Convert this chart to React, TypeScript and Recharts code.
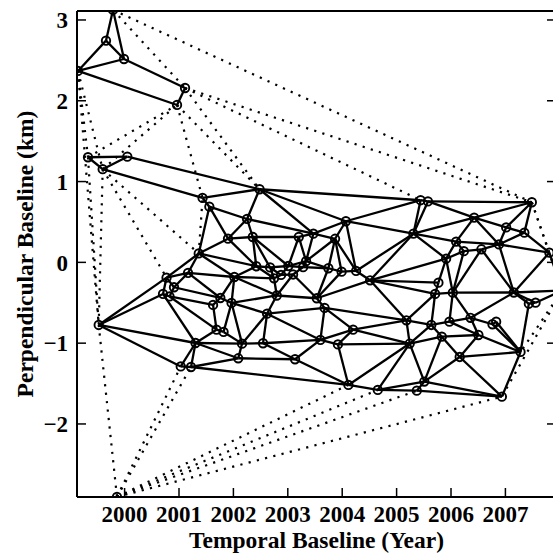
import React from 'react';
import { ScatterChart, Scatter, XAxis, YAxis, ReferenceLine, Label } from 'recharts';

// acquisitions: id, acquisition time (decimal year), perpendicular baseline (km)
const acqIds = [
  'p1', 'p2', 'p3', 'p4', 'p5', 'p6', 'p7', 'p8', 'p9', 'p93',
  'a', 'b', 'c', 'd', 'e', 'f', 'g', 'h', 'i', 'j', 'k', 'l', 'm', 'n', 'o', 'p', 'q', 'r', 's', 't', 'u', 'v', 'w', 'x', 'y', 'z',
  'A', 'B', 'C', 'D', 'E', 'F', 'G', 'H', 'I', 'J', 'K', 'L', 'M', 'N', 'O', 'P', 'Q', 'R', 'S', 'T', 'U', 'V', 'W', 'X', 'Y', 'Z',
  'aa', 'ab', 'ac', 'ad', 'ae', 'af', 'ag', 'ah', 'ai', 'aj', 'ak', 'al', 'am', 'an', 'ao', 'ap', 'aq', 'ar', 'as', 'at', 'au', 'av',
  'aw', 'ax', 'ay', 'az', 'ba', 'bb', 'bc', 'bd', 'be', 'bf', 'zz',
];
const acqYears = [
  1999.787, 1999.658, 1999.989, 1999.143, 2001.111, 2000.964, 1999.327, 2000.05, 1999.597, 1999.86,
  1999.524, 2001.032, 2001.221, 2000.706, 2000.771, 2000.826, 2000.908, 2001.166, 2001.304, 2001.363, 2001.433, 2001.558, 2001.626,
  2001.69, 2001.76, 2001.819, 2001.901, 2001.966, 2002.017, 2002.089, 2002.159, 2002.251, 2002.356, 2002.42, 2002.481, 2002.545,
  2002.619, 2002.674, 2002.747, 2002.797, 2002.876, 2003.01, 2003.097, 2003.133, 2003.202, 2003.281, 2003.336, 2003.47, 2003.533,
  2003.599, 2003.676, 2003.746, 2003.869, 2003.921, 2003.989, 2004.068, 2004.114, 2004.2, 2004.255, 2004.513, 2004.654, 2005.18,
  2005.241, 2005.309, 2005.371, 2005.441, 2005.509, 2005.576, 2005.638, 2005.708, 2005.769, 2005.831, 2005.91, 2005.971, 2006.033,
  2006.094, 2006.16, 2006.236, 2006.359, 2006.425, 2006.504, 2006.559, 2006.762, 2006.83, 2006.881, 2006.935, 2007.014, 2007.155,
  2007.278, 2007.348, 2007.431, 2007.486, 2007.554, 2007.808, 2008.043,
];
const acqBperp = [
  3.124, 2.744, 2.517, 2.369, 2.158, 1.948, 1.301, 1.308, 1.153, -2.903,
  -0.775, -1.288, -1.295, -0.391, -0.189, -0.422, -0.308, -0.131, -0.998, 0.11, 0.797, 0.689, -0.527,
  -0.833, -0.441, -0.861, 0.293, -0.502, -0.181, -1.187, -1.006, 0.537, 0.314, -0.048, 0.905, -1.001,
  -0.635, -0.063, -0.197, -0.41, -0.156, -0.045, -0.15, -1.199, 0.314, -0.059, 0.015, 0.355, -0.444,
  -0.96, -0.564, -0.073, 0.292, -1.016, -0.115, 0.509, -1.517, -0.833, -0.106, -0.222, -1.579, -0.717,
  -1.005, 0.355, -1.588, 0.769, -1.476, 0.754, -0.775, -0.391, -0.251, -0.92, 0.045, -0.734, -0.375,
  0.256, -1.171, 0.139, -0.686, 0.553, -0.899, 0.162, -0.766, -0.735, 0.222, -1.662, 0.432, -0.373,
  -1.109, 0.368, -0.512, 0.744, -0.499, 0.12, -0.349,
];

// interferometric pairs inside each subset (solid)
const solidLinks = [
  'p1-p2', 'p1-p3', 'p2-p3', 'p2-p4', 'p3-p4', 'p3-p5', 'p5-p6', 'p4-p6',
  'p7-p8', 'p7-p9', 'p8-p9', 'p8-y', 'p9-k',
  'a-e', 'a-d', 'a-i', 'a-b', 'e-j', 'e-h', 'e-g', 'e-d', 'd-f', 'g-f', 'd-i',
  'h-j', 'h-g', 'h-s', 'h-o', 'g-o', 'f-m', 'f-n', 'n-i', 'i-b', 'i-c', 'b-c',
  'o-m', 'm-n', 'o-r', 'r-s', 'o-s', 'r-p', 'n-p', 'r-u', 'p-u', 'i-u', 'c-t', 'u-t', 'i-t',
  'j-l', 'j-q', 'j-s', 'j-x', 'q-x', 'k-l', 'l-q', 'l-v', 'k-y', 'v-y', 'v-q', 'v-w', 'q-w', 'w-x',
  'v-L', 'w-I', 'y-L', 'y-T', 'y-ad', 'w-F', 'w-B',
  'x-B', 'x-s', 'x-C', 's-C', 's-D', 'B-E', 'B-C', 'C-E', 'C-D', 'r-D', 'r-A', 'A-D', 'D-G', 'D-M',
  'A-u', 'A-z', 'A-O', 'A-N', 'u-z', 'z-N', 'z-H', 't-H', 'c-U', 'H-U', 'H-N', 'N-R', 'R-U', 'V-O', 'O-N',
  'O-M', 'M-S', 'M-X', 'O-Z', 'V-Z', 'V-aa', 'R-aa', 'U-aa', 'U-Y', 'Y-ac', 'Y-aa', 'Y-ae', 'ae-aa', 'ac-ae',
  'ac-ax', 'ae-ax', 'ae-ao', 'ae-aj', 'V-R', 'N-V', 'G-M', 'P-M',
  'I-F', 'I-K', 'I-L', 'L-K', 'L-Q', 'Q-K', 'F-K', 'F-J', 'J-K', 'G-J', 'E-F', 'E-G', 'B-F', 'J-P', 'K-P',
  'P-Q', 'P-S', 'Q-S', 'S-W', 'W-X', 'Q-W', 'T-Q', 'T-L', 'T-ab', 'T-ad', 'T-W',
  'ab-ad', 'ab-af', 'ab-W', 'ab-X', 'X-ak', 'X-ai', 'X-ah', 'X-Z',
  'af-bd', 'ad-af', 'af-ar', 'ab-ar', 'ab-an', 'ab-ak', 'ar-bd', 'ar-ay', 'ar-an', 'ar-aw', 'ay-bd', 'ay-bb',
  'bb-bd', 'ay-aw', 'bb-aw', 'bb-bf', 'aw-bf', 'an-ap', 'an-ak', 'an-aw', 'at-aw', 'ap-at', 'ap-am', 'at-am',
  'at-az', 'aw-az', 'bf-az', 'bf-zz', 'az-zz', 'be-zz', 'az-be', 'az-bc', 'bc-be', 'az-aq', 'am-az', 'ak-ap',
  'ak-ai', 'ak-am', 'ai-ah', 'ah-am', 'am-aq', 'am-al', 'ah-ag', 'ah-Z', 'Z-ag', 'Z-aa', 'ag-aa', 'ag-al',
  'al-aq', 'al-as', 'aq-au', 'aq-as', 'au-av', 'av-ba', 'au-ba', 'bc-ba', 'aj-as', 'ag-aj', 'aa-aj', 'aj-ao',
  'as-ao', 'as-ba', 'ao-ba', 'ao-ax', 'ba-ax',
];

// pairs bridging the subsets (dotted)
const dottedLinks = [
  'p1-bd', 'p5-bd', 'p5-ad', 'p5-y', 'p6-y', 'p6-k', 'p1-p5', 'p4-p7', 'p4-p9', 'p4-a', 'p7-a', 'p9-a',
  'p9-j', 'p9-e', 'p7-p6', 'p9-p6', 'a-p93', 'p93-b', 'p93-c', 'p93-U', 'p93-Y', 'p93-ac', 'p93-ax',
  'j-k', 'bd-bf', 'bd-zz', 'zz-ba', 'zz-ax',
];

const yearTicks = [2000, 2001, 2002, 2003, 2004, 2005, 2006, 2007];
const kmTicks = [-2, -1, 0, 1, 2, 3];

const points = acqIds.map((id, i) => ({ id, year: acqYears[i], bperp: acqBperp[i] }));
const byId: Record<string, { year: number; bperp: number }> = {};
points.forEach((pt) => { byId[pt.id] = pt; });

const X_DOMAIN: [number, number] = [1999.125, 2007.93];
const Y_DOMAIN: [number, number] = [-2.904, 3.111];
const serif = '"Liberation Serif", "Times New Roman", serif';
const tickStyle = { fill: '#000', fontSize: 23, fontWeight: 700, fontFamily: serif };
const titleStyle = { fill: '#000', fontSize: 23.5, fontWeight: 700, fontFamily: serif };
const kmFormat = (v: number) => (v < 0 ? `\u2212${-v}` : `${v}`);

const YTitle = ({ viewBox }: any) => {
  const cx = viewBox.x + 33;
  const cy = viewBox.y + viewBox.height / 2;
  return (
    <text x={cx} y={cy} transform={`rotate(-90, ${cx}, ${cy})`} textAnchor="middle" style={titleStyle}>
      Perpendicular Baseline (km)
    </text>
  );
};

const Ring = (props: any) => (
  <circle cx={props.cx} cy={props.cy} r={4.2} fill="none" stroke="#000" strokeWidth={1.9} />
);

const link = (name: string, dotted: boolean) => {
  const [s, t] = name.split('-');
  const p = byId[s];
  const q = byId[t];
  return (
    <ReferenceLine
      key={(dotted ? 'd-' : 's-') + name}
      xAxisId="yr"
      yAxisId="km"
      segment={[{ x: p.year, y: p.bperp }, { x: q.year, y: q.bperp }]}
      stroke="#000"
      strokeWidth={dotted ? 2.2 : 2.3}
      strokeDasharray={dotted ? '2.2 6.3' : undefined}
      ifOverflow="hidden"
    />
  );
};

export default function App() {
  return (
    <div style={{ position: 'absolute', left: 0, top: 0, width: 553, height: 555, overflow: 'hidden', background: '#fff' }}>
      <ScatterChart width={600} height={555} margin={{ top: 10, right: 43, bottom: 0, left: 0 }}>
        <XAxis
          xAxisId="yr" type="number" dataKey="year" domain={X_DOMAIN} allowDataOverflow
          ticks={yearTicks} interval={0} height={58} tickSize={-9} tickMargin={18}
          axisLine={{ stroke: '#000', strokeWidth: 2 }} tickLine={{ stroke: '#000', strokeWidth: 1.5 }} tick={tickStyle}
        >
          <Label value="Temporal Baseline (Year)" position="insideBottom" offset={7} style={titleStyle} />
        </XAxis>
        <XAxis
          xAxisId="top" orientation="top" type="number" domain={X_DOMAIN} allowDataOverflow
          ticks={yearTicks} interval={0} height={1} tickSize={-9} tickFormatter={() => ''}
          axisLine={{ stroke: '#000', strokeWidth: 2 }} tickLine={{ stroke: '#000', strokeWidth: 1.5 }}
        />
        <YAxis
          yAxisId="km" type="number" dataKey="bperp" domain={Y_DOMAIN} allowDataOverflow
          ticks={kmTicks} interval={0} width={77} tickSize={-9} tickMargin={18} tickFormatter={kmFormat}
          axisLine={{ stroke: '#000', strokeWidth: 2 }} tickLine={{ stroke: '#000', strokeWidth: 1.5 }} tick={tickStyle}
        >
          <Label content={<YTitle />} />
        </YAxis>
        <YAxis
          yAxisId="right" orientation="right" type="number" domain={Y_DOMAIN} allowDataOverflow
          ticks={kmTicks} interval={0} width={1} tickSize={-9} tickFormatter={() => ''}
          axisLine={{ stroke: '#000', strokeWidth: 2 }} tickLine={{ stroke: '#000', strokeWidth: 1.5 }}
        />
        {dottedLinks.map((n) => link(n, true))}
        {solidLinks.map((n) => link(n, false))}
        <Scatter xAxisId="yr" yAxisId="km" data={points} shape={<Ring />} isAnimationActive={false} />
      </ScatterChart>
    </div>
  );
}
